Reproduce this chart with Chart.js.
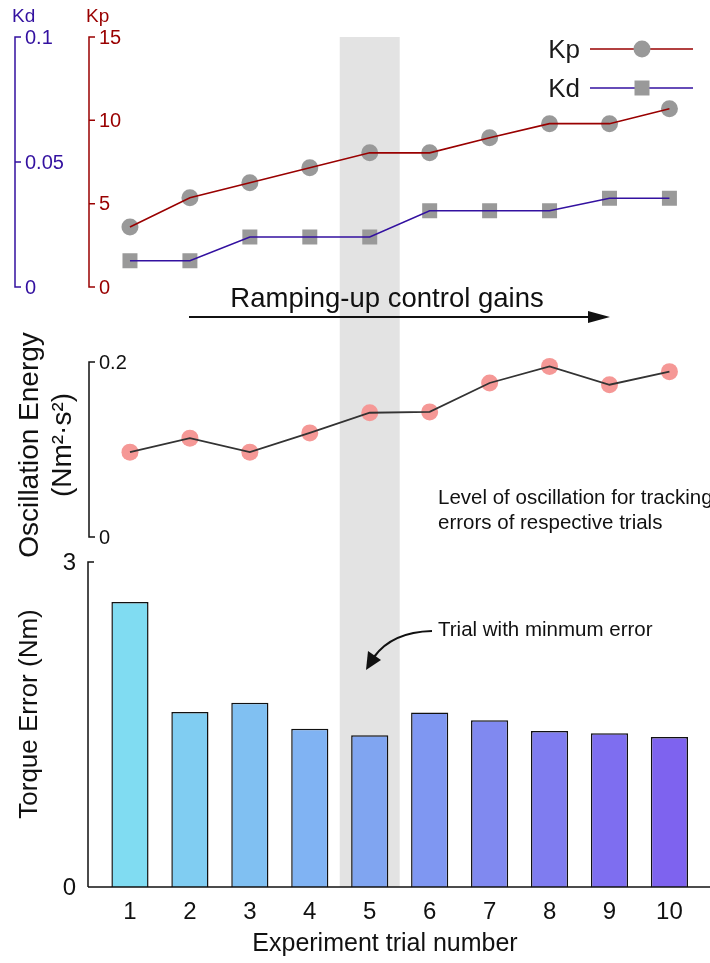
<!DOCTYPE html>
<html>
<head>
<meta charset="utf-8">
<script src="https://cdn.jsdelivr.net/npm/chart.js@4/dist/chart.umd.min.js"></script>
<style>
  html, body { margin: 0; padding: 0; background: #ffffff; }
  #wrap { position: relative; width: 710px; height: 963px; overflow: hidden; }
  canvas { display: block; }
</style>
</head>
<body>
<div id="wrap"><canvas id="gains" width="710" height="963"></canvas></div>
<script>
// Trial numbers along the shared x axis
const trials = ['1', '2', '3', '4', '5', '6', '7', '8', '9', '10'];

// Controller gains per trial
const kpValues = [3.6, 5.35, 6.25, 7.15, 8.05, 8.05, 8.95, 9.8, 9.8, 10.7];
const kdValues = [0.0105, 0.0105, 0.02, 0.02, 0.02, 0.0305, 0.0305, 0.0305, 0.0355, 0.0355];

// Oscillation energy of the tracking error (Nm^2·s^2)
const oscValues = [0.097, 0.113, 0.097, 0.119, 0.142, 0.143, 0.176, 0.195, 0.174, 0.189];

// Torque tracking error (Nm)
const errValues = [2.63, 1.615, 1.70, 1.46, 1.40, 1.61, 1.54, 1.44, 1.42, 1.385];

// Tick values for each vertical axis
const kdTicks = [0, 0.05, 0.1];
const kpTicks = [0, 5, 10, 15];
const oscTicks = [0, 0.2];
const errTicks = [0, 3];

// Trial with the lowest torque error (highlighted band)
const bestTrial = '5';

const barColors = ['#80dcf2', '#80cdf2', '#80c0f2', '#80b3f3', '#80a5f1', '#7f97f2',
                   '#8089f0', '#7f7cf0', '#7e6ef0', '#7e63ef'];

const FONT = "'Liberation Sans', Arial, Helvetica, sans-serif";
const KP_COLOR = '#990000';
const KD_COLOR = '#3311a0';

// Pixel layout of the three stacked panels inside one chart area
const AREA_TOP = 37, AREA_BOTTOM = 887;
const GAIN_PANEL = { top: 37, bottom: 287 };
const OSC_PANEL = { top: 362, bottom: 537 };
const ERR_PANEL = { top: 562, bottom: 887 };

// Scale range so that [lo, hi] lands exactly on the panel's pixel band
function rangeFor(panel, lo, hi) {
  const perPx = (hi - lo) / (panel.bottom - panel.top);
  return {
    min: lo - (AREA_BOTTOM - panel.bottom) * perPx,
    max: hi + (panel.top - AREA_TOP) * perPx
  };
}
const kpRange = rangeFor(GAIN_PANEL, 0, 15);
const kdRange = rangeFor(GAIN_PANEL, 0, 0.1);
const oscRange = rangeFor(OSC_PANEL, 0, 0.2);
const errRange = rangeFor(ERR_PANEL, 0, 3);

function drawVAxis(ctx, scale, x, ticks, fmt, color, font, labelSide, topTickOnly) {
  const yTop = scale.getPixelForValue(ticks[ticks.length - 1]);
  const yBot = scale.getPixelForValue(ticks[0]);
  ctx.save();
  ctx.strokeStyle = color;
  ctx.lineWidth = 1.5;
  ctx.beginPath();
  ctx.moveTo(x, yTop);
  ctx.lineTo(x, yBot);
  ticks.forEach((t, i) => {
    if (topTickOnly && i !== ticks.length - 1) return;
    const y = scale.getPixelForValue(t);
    ctx.moveTo(x - 0.75, y);
    ctx.lineTo(x + 6, y);
  });
  ctx.stroke();
  ctx.fillStyle = color;
  ctx.font = font;
  ctx.textBaseline = 'middle';
  ctx.textAlign = labelSide === 'right' ? 'left' : 'right';
  ticks.forEach(t => {
    const y = scale.getPixelForValue(t);
    ctx.fillText(fmt(t), labelSide === 'right' ? x + 10 : x - 12, y + 1);
  });
  ctx.restore();
}

const decorations = {
  id: 'decorations',
  beforeDatasetsDraw(chart) {
    const { ctx, scales: { x } } = chart;
    const idx = trials.indexOf(bestTrial);
    const cx = x.getPixelForValue(idx);
    const w = x.getPixelForValue(1) - x.getPixelForValue(0);
    ctx.save();
    ctx.fillStyle = '#e3e3e3';
    ctx.fillRect(cx - w / 2, AREA_TOP, w, AREA_BOTTOM - AREA_TOP);
    ctx.restore();
  },
  afterDraw(chart) {
    const { ctx, scales } = chart;
    const x = scales.x;

    // vertical axes
    drawVAxis(ctx, scales.yKd, 15, kdTicks, v => String(v), KD_COLOR, `20px ${FONT}`, 'right');
    drawVAxis(ctx, scales.yKp, 89, kpTicks, v => String(v), KP_COLOR, `20px ${FONT}`, 'right');
    drawVAxis(ctx, scales.yOsc, 89, oscTicks, v => String(v), '#111', `20px ${FONT}`, 'right');
    drawVAxis(ctx, scales.yErr, 88, errTicks, v => String(v), '#111', `24px ${FONT}`, 'left', true);

    ctx.save();
    // axis names for the gain axes
    ctx.font = `19px ${FONT}`;
    ctx.textAlign = 'left';
    ctx.textBaseline = 'middle';
    ctx.fillStyle = KD_COLOR;
    ctx.fillText('Kd', 12, 17);
    ctx.fillStyle = KP_COLOR;
    ctx.fillText('Kp', 86, 17);

    // bottom x axis
    const yZero = scales.yErr.getPixelForValue(0);
    ctx.strokeStyle = '#111';
    ctx.lineWidth = 1.5;
    ctx.beginPath();
    ctx.moveTo(88, yZero);
    ctx.lineTo(710, yZero);
    ctx.stroke();
    ctx.fillStyle = '#111';
    ctx.font = `24px ${FONT}`;
    ctx.textAlign = 'center';
    trials.forEach((t, i) => ctx.fillText(t, x.getPixelForValue(i), yZero + 25));
    ctx.font = `25px ${FONT}`;
    ctx.fillText('Experiment trial number', 385, yZero + 57);

    // rotated y titles
    ctx.save();
    ctx.translate(30, 714);
    ctx.rotate(-Math.PI / 2);
    ctx.font = `26px ${FONT}`;
    ctx.fillText('Torque Error (Nm)', 0, 0);
    ctx.restore();
    ctx.save();
    ctx.translate(30, 445);
    ctx.rotate(-Math.PI / 2);
    ctx.font = `28px ${FONT}`;
    ctx.fillText('Oscillation Energy', 0, 0);
    ctx.fillText('(Nm\u00B2\u00B7s\u00B2)', 0, 33);
    ctx.restore();

    // legend
    const legend = [
      { label: 'Kp', y: 49, color: KP_COLOR, style: 'circle' },
      { label: 'Kd', y: 88, color: KD_COLOR, style: 'rect' }
    ];
    legend.forEach(item => {
      ctx.font = `26px ${FONT}`;
      ctx.textAlign = 'right';
      ctx.fillStyle = '#1a1a1a';
      ctx.fillText(item.label, 580, item.y + 2);
      ctx.strokeStyle = item.color;
      ctx.lineWidth = 1.5;
      ctx.beginPath();
      ctx.moveTo(590, item.y);
      ctx.lineTo(693, item.y);
      ctx.stroke();
      ctx.fillStyle = '#999999';
      ctx.beginPath();
      if (item.style === 'circle') ctx.arc(642, item.y, 8.5, 0, Math.PI * 2);
      else ctx.rect(634.5, item.y - 7.5, 15, 15);
      ctx.fill();
    });

    // ramping arrow
    ctx.fillStyle = '#111';
    ctx.font = `27.5px ${FONT}`;
    ctx.textAlign = 'center';
    ctx.fillText('Ramping-up control gains', 387, 299);
    ctx.strokeStyle = '#111';
    ctx.lineWidth = 2;
    ctx.beginPath();
    ctx.moveTo(189, 317);
    ctx.lineTo(592, 317);
    ctx.stroke();
    ctx.beginPath();
    ctx.moveTo(610, 317);
    ctx.lineTo(588, 311);
    ctx.lineTo(588, 323);
    ctx.closePath();
    ctx.fill();

    // notes
    ctx.font = `20.5px ${FONT}`;
    ctx.textAlign = 'left';
    ctx.fillText('Level of oscillation for tracking', 438, 498);
    ctx.fillText('errors of respective trials', 438, 523);
    ctx.fillText('Trial with minmum error', 438, 630);

    // curved pointer to the best trial
    ctx.lineWidth = 2.2;
    ctx.beginPath();
    ctx.moveTo(432, 631);
    ctx.quadraticCurveTo(392, 632, 374, 657);
    ctx.stroke();
    ctx.beginPath();
    ctx.moveTo(366, 670);
    ctx.lineTo(368, 651);
    ctx.lineTo(381, 660);
    ctx.closePath();
    ctx.fill();
    ctx.restore();
  }
};

new Chart(document.getElementById('gains'), {
  type: 'bar',
  data: {
    labels: trials,
    datasets: [
      { type: 'line', data: kpValues, yAxisID: 'yKp', borderColor: KP_COLOR, borderWidth: 1.6,
        pointRadius: 0, fill: false, order: 1 },
      { type: 'line', data: kpValues, yAxisID: 'yKp', showLine: false, pointStyle: 'circle',
        pointRadius: 8.5, pointBackgroundColor: '#999999', pointBorderWidth: 0, order: 5 },
      { type: 'line', data: kdValues, yAxisID: 'yKd', borderColor: KD_COLOR, borderWidth: 1.6,
        pointRadius: 0, fill: false, order: 1 },
      { type: 'line', data: kdValues, yAxisID: 'yKd', showLine: false, pointStyle: 'rect',
        pointRadius: 10.6, pointBackgroundColor: '#999999', pointBorderWidth: 0, order: 5 },
      { type: 'line', data: oscValues, yAxisID: 'yOsc', borderColor: '#333333', borderWidth: 1.8,
        pointRadius: 0, fill: false, order: 1 },
      { type: 'line', data: oscValues, yAxisID: 'yOsc', showLine: false, pointStyle: 'circle',
        pointRadius: 8.5, pointBackgroundColor: '#f59896', pointBorderWidth: 0, order: 5 },
      { type: 'bar', data: errValues, yAxisID: 'yErr', backgroundColor: barColors,
        borderColor: '#111111', borderWidth: 1.5, barPercentage: 0.62, categoryPercentage: 1,
        order: 10 }
    ]
  },
  options: {
    responsive: false,
    animation: false,
    devicePixelRatio: 1,
    layout: { padding: { left: 100, right: 10, top: AREA_TOP, bottom: 963 - AREA_BOTTOM } },
    plugins: { legend: { display: false }, tooltip: { enabled: false } },
    scales: {
      x: { type: 'category', display: false, offset: true },
      yKp: { display: false, min: kpRange.min, max: kpRange.max },
      yKd: { display: false, min: kdRange.min, max: kdRange.max },
      yOsc: { display: false, min: oscRange.min, max: oscRange.max },
      yErr: { display: false, min: errRange.min, max: errRange.max }
    }
  },
  plugins: [decorations]
});
</script>
</body>
</html>
